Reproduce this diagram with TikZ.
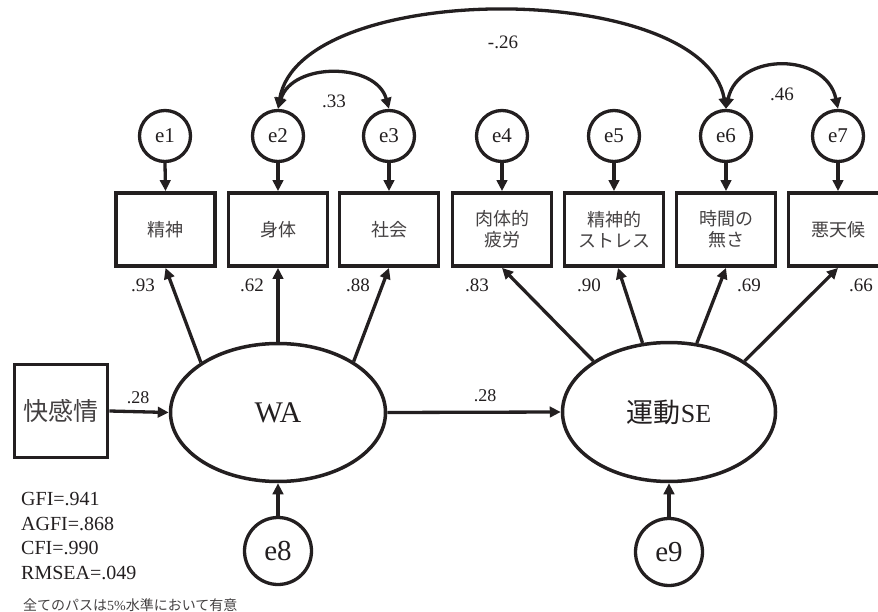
\documentclass[tikz,border=0pt]{standalone}
\usepackage{fontspec}
\setmainfont{Liberation Serif}
\newfontfamily\cjk{Noto Sans CJK JP}
\usetikzlibrary{shapes.geometric,arrows.meta}
\definecolor{ink}{RGB}{35,31,32}
\begin{document}
\begin{tikzpicture}[x=1pt,y=-1pt,
  every node/.style={text=ink},
  err/.style={circle, draw=ink, line width=3.3pt, minimum size=51pt, inner sep=0pt, font=\fontsize{21}{21}\selectfont},
  bigerr/.style={err, minimum size=67pt, font=\fontsize{29}{29}\selectfont},
  obs/.style={rectangle, draw=ink, line width=3.8pt, minimum width=99pt, minimum height=73pt, inner sep=0pt, align=center, font=\cjk\fontsize{18}{21}\selectfont, text=ink!85},
  lat/.style={ellipse, draw=ink, line width=3.5pt, inner sep=0pt},
  arr/.style={draw=ink, line width=3.3pt, -{Triangle[length=11pt,width=10.5pt]}},
  dbl/.style={draw=ink, line width=3.3pt, {Triangle[length=11pt,width=10.5pt]}-{Triangle[length=11pt,width=10.5pt]}},
  lbl/.style={font=\fontsize{19}{19}\selectfont, inner sep=0pt},
  fitl/.style={font=\fontsize{20}{20}\selectfont, inner sep=0pt, anchor=base west}
]
\useasboundingbox (0,0) rectangle (878,612);

% error circles
\node[err] (e1) at (165,136) {e1};
\node[err] (e2) at (278,136) {e2};
\node[err] (e3) at (389,136) {e3};
\node[err] (e4) at (502,136) {e4};
\node[err] (e5) at (614,136) {e5};
\node[err] (e6) at (726,136) {e6};
\node[err] (e7) at (838,136) {e7};

% observed boxes
\node[obs] (b1) at (165.5,229.5) {精神};
\node[obs] (b2) at (278,229.5) {身体};
\node[obs] (b3) at (389,229.5) {社会};
\node[obs] (b4) at (502,229.5) {肉体的\\疲労};
\node[obs] (b5) at (614,229.5) {精神的\\ストレス};
\node[obs] (b6) at (726,229.5) {時間の\\無さ};
\node[obs] (b7) at (838,229.5) {悪天候};

% latent
\node[lat, minimum width=215pt, minimum height=138pt, font=\fontsize{30}{30}\selectfont] (WA) at (278,412.5) {WA};
\node[lat, minimum width=213pt, minimum height=139pt, font=\fontsize{26}{26}\selectfont] (SE) at (669,412) {{\cjk\fontsize{27}{27}\selectfont 運動}SE};

\node[rectangle, draw=ink, line width=3.8pt, minimum size=93pt, inner sep=0pt, font=\cjk\fontsize{25}{25}\selectfont, text=ink!85] (pa) at (61,411) {快感情};

\node[bigerr] (e8) at (278,551) {e8};
\node[bigerr] (e9) at (669,552) {e9};

% error arrows
\foreach \i in {1,...,7} {\draw[arr] (e\i.south) -- (b\i.north);}

% loadings
\draw[arr] (WA.147) -- (b1.south);
\draw[arr] (WA.90) -- (b2.south);
\draw[arr] (WA.34) -- (b3.south);
\draw[arr] (SE.146) -- (b4.south);
\draw[arr] (SE.111) -- ([xshift=4pt]b5.south);
\draw[arr] (SE.68) -- (b6.south);
\draw[arr] (SE.34) -- (b7.south);

\draw[arr] (pa.east) -- (WA.west);
\draw[arr] (WA.east) -- (SE.west);
\draw[arr] (e8.north) -- (WA.south);
\draw[arr] (e9.north) -- (SE.south);

% covariances
\draw[dbl] (e2.north) .. controls (292,62) and (376,62) .. (e3.north);
\draw[dbl] (e2.north) .. controls (300,-21) and (703,-21) .. (e6.north);
\draw[dbl] (e6.north) .. controls (738,52) and (826,52) .. (e7.north);

% labels
\node[lbl] (l1) at (143,285) {.93};
\node[lbl] (l2) at (252,285) {.62};
\node[lbl] (l3) at (358,285) {.88};
\node[lbl] (l4) at (477,285) {.83};
\node[lbl] (l5) at (589,285) {.90};
\node[lbl] (l6) at (749,285) {.69};
\node[lbl] (l7) at (861,285) {.66};
\node[lbl] (c1) at (334,101) {.33};
\node[lbl] (c2) at (503,42) {-.26};
\node[lbl] (c3) at (782,94) {.46};
\node[lbl, font=\fontsize{18}{18}\selectfont] (p1) at (138,398) {.28};
\node[lbl, font=\fontsize{18}{18}\selectfont] (p2) at (485,396) {.28};

% fit indices
\node[fitl] (f1) at (21,505) {GFI=.941};
\node[fitl] (f2) at (21,530) {AGFI=.868};
\node[fitl] (f3) at (21,554) {CFI=.990};
\node[fitl] (f4) at (21,579) {RMSEA=.049};
\node[inner sep=0pt, anchor=west, font=\fontsize{14}{14}\selectfont, text=ink!85] (note) at (23,605) {{\cjk 全てのパスは}5\%{\cjk 水準において有意}};
\end{tikzpicture}
\end{document}
